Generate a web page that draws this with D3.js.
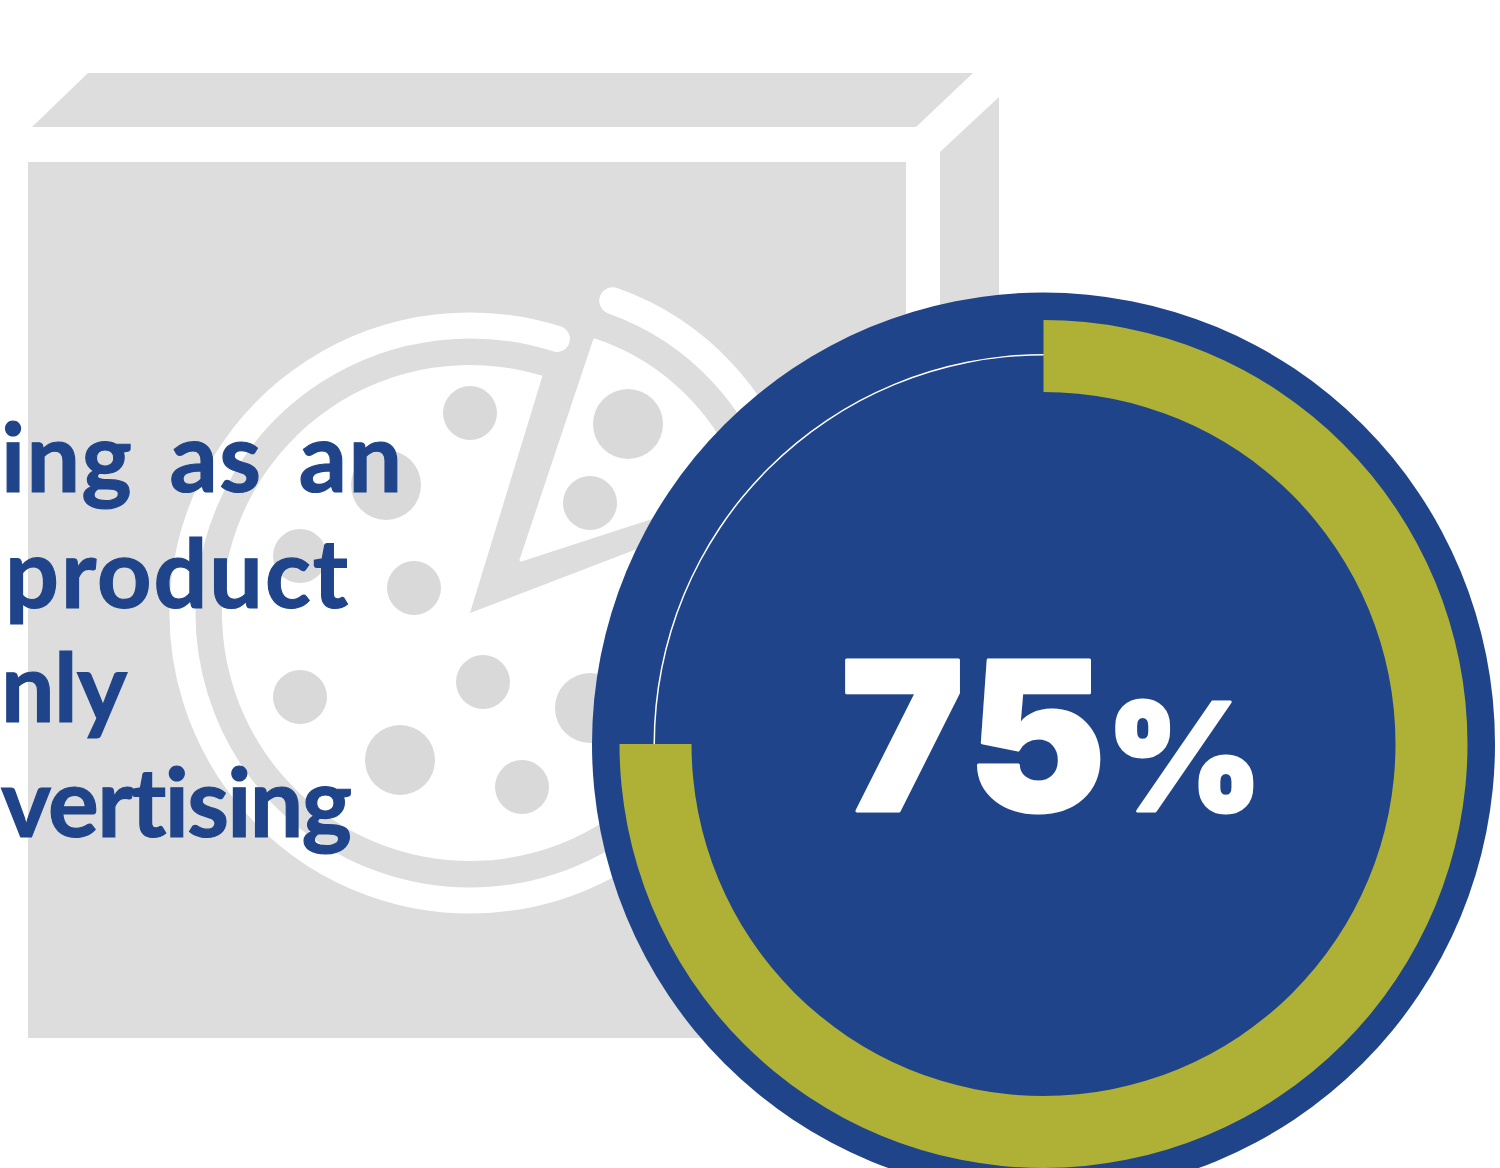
<!DOCTYPE html>
<html>
<head>
<meta charset="utf-8">
<script src="https://cdn.jsdelivr.net/npm/d3@7"></script>
<style>
  html, body { margin: 0; padding: 0; background: #fff; overflow: hidden; }
  svg { display: block; }
  text { font-variant-ligatures: none; }
</style>
</head>
<body>
<script>
// Share of respondents shown on the dial
const shareKeys = ["agree", "remainder"];
const shareValues = [75, 25];
const shareDigits = ["7", "5"];
const shareSuffix = "%";

// Caption fragments, one per line, with the left edge and baseline of each
const captionLines = ["ing as an", "product", "nly", "vertising"];
const captionLeft = [1, 5, 1, 1];
const captionWidth = [401, 343, 126, 351];
const captionBase = [492, 608, 722, 837];

// Toppings on the pizza: x, y, radius
const toppingX = [470, 386, 300, 414, 483, 300, 400, 522, 590];
const toppingY = [413, 485, 556, 588, 682, 697, 760, 787, 708];
const toppingR = [27, 35, 27, 27, 27, 27, 35, 27, 35];
const sliceToppingX = [628, 590];
const sliceToppingY = [424, 503];
const sliceToppingR = [35, 27];

// Box outline points
const boxTopX = [88, 973, 916, 32];
const boxTopY = [73, 73, 127, 127];
const boxSideX = [999, 999, 940, 940];
const boxSideY = [97, 980, 1036, 152];

const NAVY = "#1f4489", OLIVE = "#aeb135", GREY = "#dddddd";
const W = 1500, H = 1168;

const svg = d3.select("body").append("svg").attr("width", W).attr("height", H);
svg.append("rect").attr("width", W).attr("height", H).attr("fill", "#fff");

// Pizza box
const backdrop = svg.append("g");
const polygon = (xs, ys) => d3.line()(xs.map((x, i) => [x, ys[i]])) + "Z";
backdrop.append("path").attr("d", polygon(boxTopX, boxTopY)).attr("fill", GREY);
backdrop.append("path").attr("d", polygon(boxSideX, boxSideY)).attr("fill", GREY);
backdrop.append("rect").attr("x", 28).attr("y", 162).attr("width", 878).attr("height", 876).attr("fill", GREY);

// Pizza with one slice pulled out
const deg = d => d * Math.PI / 180;
const ringPath = (cx, cy, r, from, to) => {
  const p = d3.path();
  p.arc(cx, cy, r, deg(from - 90), deg(to - 90));
  return p.toString();
};
const wedge = d3.arc().innerRadius(0);

const pizzaX = 470, pizzaY = 613;
backdrop.append("path")
  .attr("d", ringPath(pizzaX, pizzaY, 287.5, 75, 377.6))
  .attr("fill", "none").attr("stroke", "#fff").attr("stroke-width", 26).attr("stroke-linecap", "round");
backdrop.append("path")
  .attr("transform", `translate(${pizzaX},${pizzaY})`)
  .attr("d", wedge({ outerRadius: 248, startAngle: deg(69), endAngle: deg(377) }))
  .attr("fill", "#fff");

const sliceX = 521, sliceY = 560;
backdrop.append("path")
  .attr("d", ringPath(sliceX, sliceY, 275, 19.5, 75))
  .attr("fill", "none").attr("stroke", "#fff").attr("stroke-width", 27).attr("stroke-linecap", "round");
backdrop.append("path")
  .attr("transform", `translate(${sliceX},${sliceY})`)
  .attr("d", wedge({ outerRadius: 232, startAngle: deg(18.5), endAngle: deg(72) }))
  .attr("fill", "#fff").attr("stroke", "#fff").attr("stroke-width", 3).attr("stroke-linejoin", "round");

backdrop.selectAll("circle.topping")
  .data(toppingX.map((x, i) => ({ x, y: toppingY[i], r: toppingR[i] })).concat(
        sliceToppingX.map((x, i) => ({ x, y: sliceToppingY[i], r: sliceToppingR[i] }))))
  .join("circle")
  .attr("class", "topping")
  .attr("cx", d => d.x).attr("cy", d => d.y).attr("r", d => d.r)
  .attr("fill", "#d9d9d9");

// Caption, stretched to its measured line widths
svg.append("g").selectAll("text")
  .data(captionLines)
  .join("text")
  .attr("x", (d, i) => captionLeft[i])
  .attr("y", (d, i) => captionBase[i])
  .attr("textLength", (d, i) => captionWidth[i])
  .attr("lengthAdjust", "spacing")
  .attr("font-family", "Lato, sans-serif")
  .attr("font-weight", 700)
  .attr("font-size", 95)
  .attr("word-spacing", 12)
  .attr("fill", NAVY)
  .attr("stroke", NAVY)
  .attr("stroke-width", 1.2)
  .text(d => d);

// Dial: navy disc, olive arc for the share, hairline for the rest
const dialX = 1043.5, dialY = 744;
const dial = svg.append("g").attr("transform", `translate(${dialX},${dialY})`);
dial.append("circle").attr("r", 451.5).attr("fill", NAVY);

const total = d3.sum(shareValues);
const angle = d3.scaleLinear().domain([0, total]).range([0, 2 * Math.PI]);
const pieces = d3.pie().sort(null).value(d => d).startAngle(angle(0)).endAngle(angle(total))(shareValues);

const arcShare = d3.arc().innerRadius(352).outerRadius(424);
const arcRest = d3.arc().innerRadius(388.5).outerRadius(390);
dial.selectAll("path.piece")
  .data(pieces)
  .join("path")
  .attr("class", "piece")
  .attr("data-key", (d, i) => shareKeys[i])
  .attr("d", (d, i) => (i === 0 ? arcShare : arcRest)(d))
  .attr("fill", (d, i) => (i === 0 ? OLIVE : "#fff"));

// Big number with a smaller percent sign
const big = svg.append("text")
  .attr("x", 841).attr("y", 811)
  .attr("font-family", "Inter, sans-serif")
  .attr("font-weight", 900)
  .attr("fill", "#fff")
  .attr("stroke", "#fff")
  .attr("stroke-width", 3)
  .attr("stroke-linejoin", "round");
big.append("tspan").attr("font-size", 207).text(shareDigits[0]);
big.append("tspan").attr("font-size", 207).attr("dx", 6).text(shareDigits[1]);
big.append("tspan").attr("font-size", 150).attr("dx", 0).text(shareSuffix);
</script>
</body>
</html>
